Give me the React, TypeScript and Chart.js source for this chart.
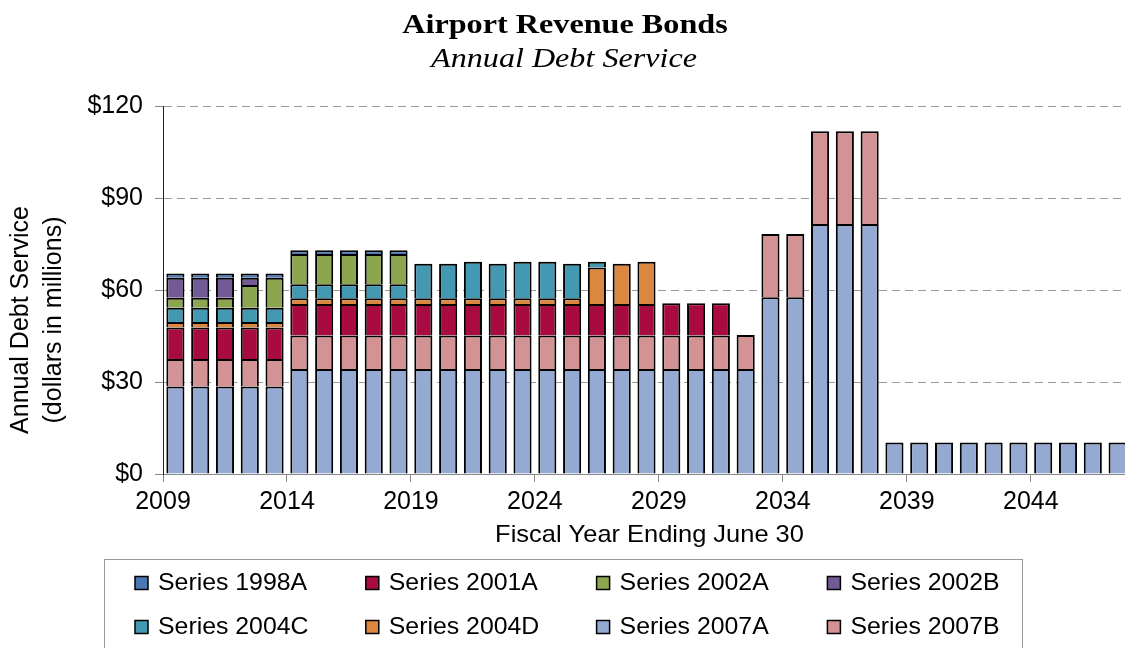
import React, { useEffect, useRef } from 'react';
import { Chart, registerables } from 'chart.js';

Chart.register(...registerables);

// ---------- DATA ----------
const years = [
  '2009', '2010', '2011', '2012', '2013', '2014', '2015', '2016', '2017', '2018',
  '2019', '2020', '2021', '2022', '2023', '2024', '2025', '2026', '2027', '2028',
  '2029', '2030', '2031', '2032', '2033', '2034', '2035', '2036', '2037', '2038',
  '2039', '2040', '2041', '2042', '2043', '2044', '2045', '2046', '2047',
];

const xTickValues = [2009, 2014, 2019, 2024, 2029, 2034, 2039, 2044];
const yTickValues = [0, 30, 60, 90, 120];

const series2007A = [
  28.5, 28.5, 28.5, 28.5, 28.5, 34.2, 34.2, 34.2, 34.2, 34.2,
  34.2, 34.2, 34.2, 34.2, 34.2, 34.2, 34.2, 34.2, 34.2, 34.2,
  34.2, 34.2, 34.2, 34.2, 57.6, 57.6, 81.5, 81.5, 81.5, 10.3,
  10.3, 10.3, 10.3, 10.3, 10.3, 10.3, 10.3, 10.3, 10.3,
];
const series2007B = [
  9.0, 9.0, 9.0, 9.0, 9.0, 11.0, 11.0, 11.0, 11.0, 11.0,
  11.0, 11.0, 11.0, 11.0, 11.0, 11.0, 11.0, 11.0, 11.0, 11.0,
  11.0, 11.0, 11.0, 11.1, 20.7, 20.7, 30.3, 30.3, 30.3, null,
  null, null, null, null, null, null, null, null, null,
];
const series2001A = [
  10.3, 10.3, 10.3, 10.3, 10.3, 10.2, 10.2, 10.2, 10.2, 10.2,
  10.2, 10.2, 10.2, 10.2, 10.2, 10.2, 10.2, 10.2, 10.2, 10.2,
  10.5, 10.5, 10.5, null, null, null, null, null, null, null,
  null, null, null, null, null, null, null, null, null,
];
const series2004D = [
  1.8, 1.8, 1.8, 1.8, 1.8, 1.9, 1.9, 1.9, 1.9, 1.9,
  1.9, 1.9, 1.9, 1.9, 1.9, 1.9, 1.9, 11.9, 13.2, 13.8,
  null, null, null, null, null, null, null, null, null, null,
  null, null, null, null, null, null, null, null, null,
];
const series2004C = [
  4.6, 4.6, 4.6, 4.6, 4.6, 4.6, 4.6, 4.6, 4.6, 4.6,
  11.3, 11.3, 11.9, 11.3, 11.9, 11.9, 11.3, 1.9, null, null,
  null, null, null, null, null, null, null, null, null, null,
  null, null, null, null, null, null, null, null, null,
];
const series2002A = [
  3.3, 3.3, 3.3, 7.4, 9.8, 9.8, 9.8, 9.8, 9.8, 9.8,
  null, null, null, null, null, null, null, null, null, null,
  null, null, null, null, null, null, null, null, null, null,
  null, null, null, null, null, null, null, null, null,
];
const series2002B = [
  6.5, 6.5, 6.5, 2.4, null, null, null, null, null, null,
  null, null, null, null, null, null, null, null, null, null,
  null, null, null, null, null, null, null, null, null, null,
  null, null, null, null, null, null, null, null, null,
];
const series1998A = [
  1.4, 1.4, 1.4, 1.4, 1.4, 1.3, 1.3, 1.3, 1.3, 1.3,
  null, null, null, null, null, null, null, null, null, null,
  null, null, null, null, null, null, null, null, null, null,
  null, null, null, null, null, null, null, null, null,
];

// legend order (as shown)
const legendOrder = [
  'Series 1998A', 'Series 2001A', 'Series 2002A', 'Series 2002B',
  'Series 2004C', 'Series 2004D', 'Series 2007A', 'Series 2007B',
];

const titleText = 'Airport Revenue Bonds';
const subtitleText = 'Annual Debt Service';
const xTitle = 'Fiscal Year Ending June 30';
const yTitle1 = 'Annual Debt Service';
const yTitle2 = '(dollars in millions)';

// ---------- STYLE ----------
const SANS = '"Liberation Sans", Arial, sans-serif';
const SERIF = '"Liberation Serif", "Times New Roman", serif';

const colors: Record<string, string> = {
  'Series 1998A': '#4A78B5',
  'Series 2001A': '#A80A42',
  'Series 2002A': '#8CA54F',
  'Series 2002B': '#715A95',
  'Series 2004C': '#4399B2',
  'Series 2004D': '#DC8740',
  'Series 2007A': '#95AAD2',
  'Series 2007B': '#D39293',
};

// bottom-to-top stacking order
const stackOrder: [string, (number | null)[]][] = [
  ['Series 2007A', series2007A],
  ['Series 2007B', series2007B],
  ['Series 2001A', series2001A],
  ['Series 2004D', series2004D],
  ['Series 2004C', series2004C],
  ['Series 2002A', series2002A],
  ['Series 2002B', series2002B],
  ['Series 1998A', series1998A],
];

function stretchedText(
  ctx: CanvasRenderingContext2D,
  text: string,
  x: number,
  y: number,
  sx: number,
) {
  ctx.save();
  ctx.translate(x, y);
  ctx.scale(sx, 1);
  ctx.fillText(text, 0, 0);
  ctx.restore();
}

const decorPlugin = {
  id: 'decor',
  afterDraw(chart: any) {
    const ctx = chart.ctx as CanvasRenderingContext2D;
    const a = chart.chartArea;
    ctx.save();
    ctx.fillStyle = '#000';
    ctx.textAlign = 'center';
    ctx.textBaseline = 'alphabetic';
    ctx.font = `bold 28px ${SERIF}`;
    stretchedText(ctx, titleText, 565, 33, 1.15);
    ctx.font = `italic 27px ${SERIF}`;
    stretchedText(ctx, subtitleText, 564, 67, 1.19);

    ctx.font = `24px ${SANS}`;
    stretchedText(ctx, xTitle, (a.left + a.right) / 2 + 3, 542, 1.06);

    ctx.font = `25px ${SANS}`;
    const yMid = 320;
    ctx.save();
    ctx.translate(28, yMid);
    ctx.rotate(-Math.PI / 2);
    ctx.fillText(yTitle1, 0, 0);
    ctx.restore();
    ctx.save();
    ctx.translate(61, yMid);
    ctx.rotate(-Math.PI / 2);
    ctx.fillText(yTitle2, 0, 0);
    ctx.restore();

    // legend box
    ctx.strokeStyle = '#9a9a9a';
    ctx.lineWidth = 1;
    ctx.strokeRect(104.5, 559.5, 918, 130);

    ctx.textAlign = 'left';
    ctx.textBaseline = 'middle';
    ctx.font = `24px ${SANS}`;
    legendOrder.forEach((name, i) => {
      const col = i % 4;
      const row = Math.floor(i / 4);
      const sx = 135 + col * 230.8;
      const sy = 583 + row * 44;
      const ds = chart.data.datasets.find((d: any) => d.label === name);
      ctx.fillStyle = ds ? ds.backgroundColor : '#ccc';
      ctx.fillRect(sx, sy - 6.5, 13, 13);
      ctx.strokeStyle = '#000';
      ctx.lineWidth = 1.5;
      ctx.strokeRect(sx, sy - 6.5, 13, 13);
      ctx.fillStyle = '#000';
      stretchedText(ctx, name, sx + 23, sy, 1.035);
    });
    ctx.restore();
  },
};

export default function App() {
  const canvasRef = useRef<HTMLCanvasElement | null>(null);

  useEffect(() => {
    const canvas = canvasRef.current;
    if (!canvas) return;
    const chart = new Chart(canvas, {
      type: 'bar',
      data: {
        labels: years,
        datasets: stackOrder.map(([name, values]) => ({
          label: name,
          data: values,
          backgroundColor: colors[name],
          borderColor: '#000',
          borderWidth: 2,
          barPercentage: 0.73,
          categoryPercentage: 1,
          xAxisID: 'x',
          yAxisID: 'y',
        })),
      },
      options: {
        responsive: false,
        maintainAspectRatio: false,
        animation: false,
        layout: { padding: { left: 0, right: 0, top: 106, bottom: 134 } },
        plugins: {
          legend: { display: false },
          title: { display: false },
          tooltip: { enabled: false },
        },
        scales: {
          x: {
            type: 'category',
            stacked: true,
            display: false,
            offset: true,
          },
          x2: {
            type: 'linear',
            axis: 'x',
            position: 'bottom',
            offset: false,
            min: Number(years[0]),
            max: Number(years[years.length - 1]) + 1,
            bounds: 'data',
            afterBuildTicks: (s: any) => {
              s.ticks = xTickValues.map((v) => ({ value: v }));
            },
            afterFit: (s: any) => {
              s.height = 40;
            },
            ticks: {
              callback: (v: any) => String(v),
              font: { family: SANS, size: 25 },
              color: '#000',
              padding: 5,
              maxRotation: 0,
              autoSkip: false,
            },
            grid: {
              offset: false,
              drawOnChartArea: false,
              drawTicks: true,
              tickLength: 8,
              tickColor: '#888',
              tickWidth: 1,
            },
            border: { display: true, color: '#888', width: 1 },
          },
          y: {
            type: 'linear',
            stacked: true,
            position: 'left',
            min: 0,
            max: 120,
            afterFit: (s: any) => {
              s.width = 163;
            },
            afterBuildTicks: (s: any) => {
              s.ticks = yTickValues.map((v) => ({ value: v }));
            },
            ticks: {
              callback: (v: any) => '$' + v,
              font: { family: SANS, size: 25 },
              color: '#000',
              padding: 12,
            },
            grid: {
              color: (c: any) => (c.tick && c.tick.value === 0 ? 'rgba(0,0,0,0)' : '#9a9a9a'),
              lineWidth: 1,
              drawTicks: true,
              tickLength: 8,
              tickColor: '#888',
              tickWidth: 1,
              tickBorderDash: [],
            },
            border: { display: true, color: '#222', width: 1, dash: [8, 5] },
          },
        },
      } as any,
      plugins: [decorPlugin],
    });
    return () => chart.destroy();
  }, []);

  return (
    <div
      style={{
        position: 'fixed',
        left: 0,
        top: 0,
        width: 1125,
        height: 648,
        overflow: 'hidden',
        background: '#fff',
      }}
    >
      <canvas ref={canvasRef} width={1130} height={648} style={{ display: 'block' }} />
    </div>
  );
}
